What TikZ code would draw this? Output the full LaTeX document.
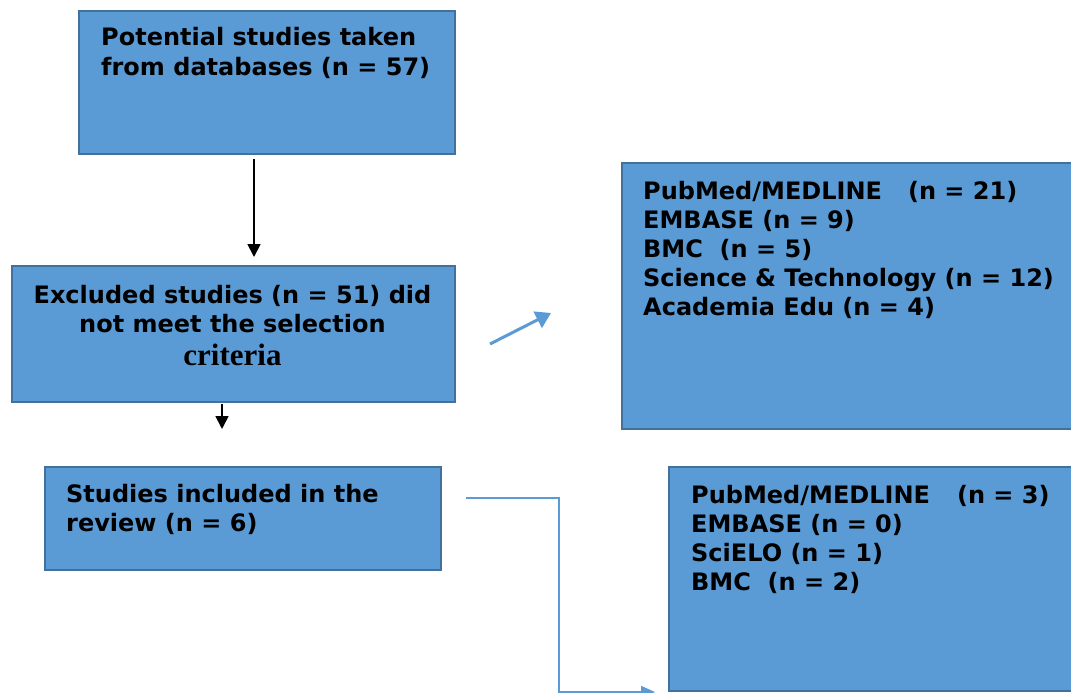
\documentclass[tikz,border=0pt]{standalone}
\usepackage{fontspec}
\newfontfamily\vfont{DejaVu Sans}
\newfontfamily\tfont{Liberation Serif}
\usetikzlibrary{arrows.meta,calc}
\definecolor{boxfill}{HTML}{5B9BD5}
\definecolor{boxedge}{HTML}{41719C}
\begin{document}
\begin{tikzpicture}[x=1pt,y=-1pt,
  box/.style={draw=boxedge,line width=2pt,fill=boxfill,rectangle,inner sep=0pt,anchor=north west},
  txt/.style={font=\vfont\bfseries\fontsize{24}{29}\selectfont,align=left,inner sep=0pt,anchor=base west},
  blackarrow/.style={line width=1.8pt,black,-{Triangle[width=13pt,length=13pt]}},
  bluearrow/.style={line width=2pt,boxfill,-{Triangle[width=12pt,length=14pt]}}]
\useasboundingbox (0,0) rectangle (1071,693);
\clip (0,0) rectangle (1071,693);
\node[box,minimum width=376pt,minimum height=143pt] (b1) at (78,10) {};
\node[box,minimum width=443pt,minimum height=136pt] (b2) at (11,265) {};
\node[box,minimum width=396pt,minimum height=103pt] (b3) at (44,466) {};
\node[box,minimum width=464pt,minimum height=266pt] (b4) at (621,162) {};
\node[box,minimum width=417pt,minimum height=224pt] (b5) at (668,466) {};
% multi-line text nodes: anchor base = baseline of the last line
\node[txt] (t1) at (101,75) {Potential studies taken\\from databases (n = 57)};
\node[txt,anchor=base] (t2a) at (232.5,303) {Excluded studies (n = 51) did};
\node[txt,anchor=base] (t2b) at (232.5,332) {not meet the selection};
\node[inner sep=0pt,anchor=base,font=\tfont\bfseries\fontsize{31}{34}\selectfont] (t2c) at (232.5,365) {criteria};
\node[txt] (t3) at (66,531) {Studies included in the\\review (n = 6)};
\node[txt] (t4) at (643,315) {PubMed/MEDLINE\hspace{26pt}(n = 21)\\EMBASE (n = 9)\\BMC\ \ (n = 5)\\Science \& Technology (n = 12)\\Academia Edu (n = 4)};
\node[txt] (t5) at (691,590) {PubMed/MEDLINE\hspace{27pt}(n = 3)\\EMBASE (n = 0)\\SciELO (n = 1)\\BMC\ \ (n = 2)};
\coordinate (a1s) at ($(b1.south west)+(176,4)$);
\coordinate (a1e) at ($(b2.north west)+(243,-8)$);
\draw[blackarrow] (a1s) -- (a1e);
\coordinate (a2s) at ($(b2.south west)+(211,1)$);
\coordinate (a2e) at ($(b2.south west)+(211,26)$);
\draw[blackarrow] (a2s) -- (a2e);
\coordinate (a3s) at (490,344);
\coordinate (a3e) at (551,313);
\draw[line width=3pt,boxfill,-{Triangle[width=18pt,length=15pt]}] (a3s) -- (a3e);
\coordinate (a4s) at ($(b3.north east)+(24,32)$);
\coordinate (a4m) at (559,498);
\coordinate (a4e) at ($(b5.south west)+(-13,0)$);
\draw[bluearrow] (a4s) -- (a4m) |- (a4e);
\end{tikzpicture}
\end{document}
